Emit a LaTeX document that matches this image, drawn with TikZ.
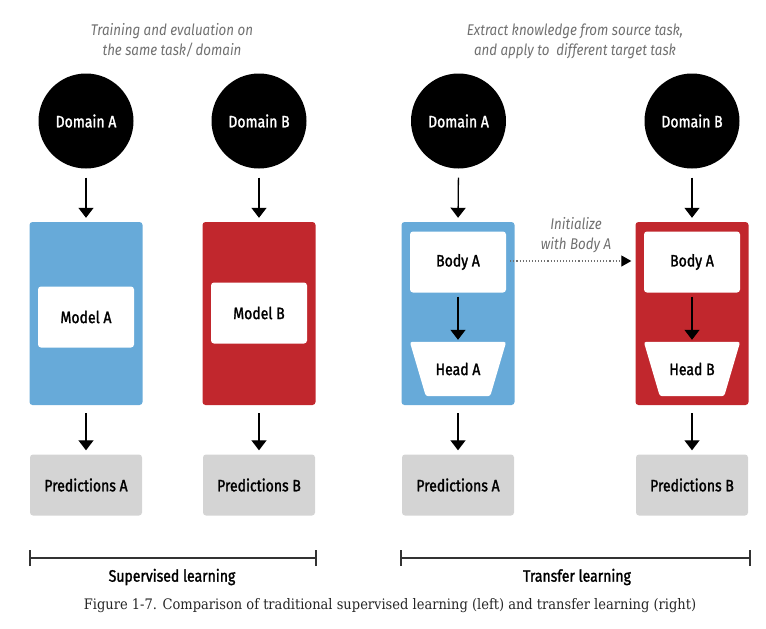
\documentclass[tikz,border=0pt]{standalone}
\usepackage{fontspec}
\setmainfont{Fira Sans}[FakeStretch=0.86]
\newfontfamily\medfont{Fira Sans}[FakeStretch=0.85,FakeBold=1.6]
\newfontfamily\capfont{DejaVu Serif Condensed}
\usetikzlibrary{arrows.meta}
\definecolor{blueA}{HTML}{67AAD9}
\definecolor{redB}{HTML}{C1272D}
\definecolor{predgray}{HTML}{D4D4D4}
\definecolor{labgray}{HTML}{707070}
\tikzset{
  lab/.style={font=\medfont\fontsize{16.5}{18}\selectfont},
  dombox/.style={circle,fill=black,minimum size=95pt,inner sep=0pt,text=white,lab},
  panelbox/.style={rectangle,rounded corners=3pt,minimum width=113pt,minimum height=183pt,inner sep=0pt},
  whitebox/.style={rectangle,fill=white,rounded corners=3pt,minimum width=96pt,minimum height=61pt,inner sep=0pt,lab},
  headframe/.style={rectangle,minimum width=96pt,minimum height=54pt,inner sep=0pt},
  headfill/.style={fill=white,rounded corners=2.5pt},
  predbox/.style={rectangle,fill=predgray,rounded corners=3pt,minimum width=112pt,minimum height=61pt,inner sep=0pt,lab},
  arr/.style={-{Triangle[length=10pt,width=15pt]},line width=1.3pt},
  dotarr/.style={dotted,line width=1.1pt,draw=labgray,-{Triangle[length=10pt,width=11pt,fill=black,color=black]}},
  italab/.style={align=center,text=labgray,font=\itshape\fontsize{15.5}{20}\selectfont},
  bracket/.style={line width=1.2pt,draw=black!80}
}
\begin{document}
\begin{tikzpicture}[x=1pt,y=-1pt]
\useasboundingbox (0,0) rectangle (766,629);
% top labels
\node[italab] (tl) at (172,40) {Training and evaluation on\\the same task/\,domain};
\node[italab] (tr) at (575,41) {Extract knowledge from source task,\\and apply to\ \ different target task};
% domains
\node[dombox] (d1) at (86,121) {Domain A};
\node[dombox] (d2) at (259,121) {Domain B};
\node[dombox] (d3) at (458.5,121) {Domain A};
\node[dombox] (d4) at (692,121) {Domain B};
% panels
\node[panelbox,fill=blueA] (p1) at (86,313.5) {};
\node[panelbox,fill=redB] (p2) at (259,313.5) {};
\node[panelbox,fill=blueA] (p3) at (458,313.5) {};
\node[panelbox,fill=redB] (p4) at (692,313.5) {};
% inner boxes
\node[whitebox] (m1) at (86,317) {Model A};
\node[whitebox] (m2) at (259,313) {Model B};
\node[whitebox] (b3) at (458,262) {Body A};
\node[whitebox] (b4) at (692,262) {Body A};
% heads (trapezoids)
\node[headframe] (h3) at (458,369) {};
\node[headframe] (h4) at (692,369) {};
\foreach \h in {h3,h4}{
  \fill[headfill] (\h.north west) -- (\h.north east) -- ([xshift=-16pt]\h.south east) -- ([xshift=16pt]\h.south west) -- cycle;
}
\node[lab] (h3t) at (h3) {Head A};
\node[lab] (h4t) at (h4) {Head B};
% predictions
\node[predbox] (q1) at (86,485) {Predictions A};
\node[predbox] (q2) at (259,485) {Predictions B};
\node[predbox] (q3) at (458,485) {Predictions A};
\node[predbox] (q4) at (692,485) {Predictions B};
% arrows
\foreach \d/\p/\q in {d1/p1/q1,d2/p2/q2,d3/p3/q3,d4/p4/q4}{
  \draw[arr,shorten <=9pt,shorten >=4pt] (\d.south) -- (\p.north);
  \draw[arr,shorten <=8pt,shorten >=4pt] (\p.south) -- (\q.north);
}
\draw[arr,shorten <=4pt,shorten >=2pt] (b3.south) -- (h3.north);
\draw[arr,shorten <=4pt,shorten >=2pt] (b4.south) -- (h4.north);
% dotted transfer
\draw[dotarr,shorten <=4pt,shorten >=4pt] (b3.east |- 0,261) -- (p4.west |- 0,261);
\node[italab] (init) at (576,235) {Initialize\\with Body A};
% brackets
\coordinate (l1) at (30,558); \coordinate (l2) at (316,558);
\coordinate (r1) at (401,558); \coordinate (r2) at (750,558);
\draw[bracket] (l1) -- (l2);
\draw[bracket] ([yshift=-8pt]l1) -- ([yshift=8pt]l1);
\draw[bracket] ([yshift=-8pt]l2) -- ([yshift=8pt]l2);
\draw[bracket] (r1) -- (r2);
\draw[bracket] ([yshift=-8pt]r1) -- ([yshift=8pt]r1);
\draw[bracket] ([yshift=-8pt]r2) -- ([yshift=8pt]r2);
\node[lab] (sl) at (172,577) {Supervised learning};
\node[lab] (trl) at (577,577) {Transfer learning};
% caption
\node[font=\capfont\fontsize{14.5}{16}\selectfont,text=black!85] (cap) at (390,606) {Figure 1-7. Comparison of traditional supervised learning (left) and transfer learning (right)};
\end{tikzpicture}
\end{document}
